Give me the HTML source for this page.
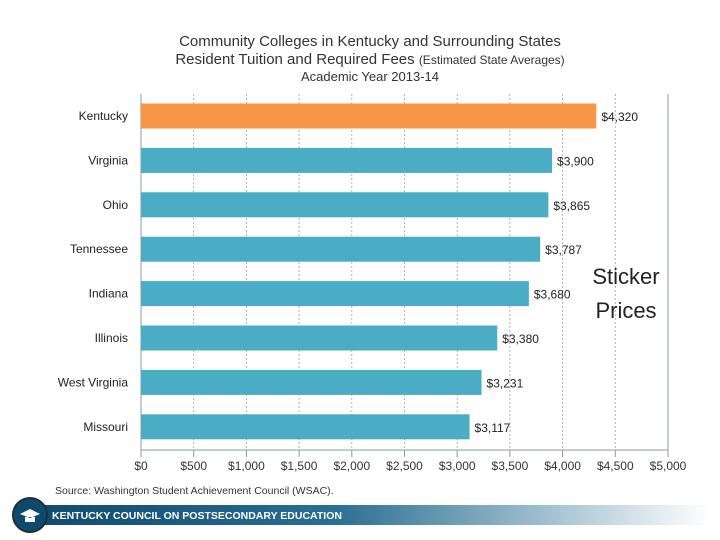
<!DOCTYPE html>
<html><head><meta charset="utf-8"><style>
body{margin:0;width:720px;height:540px;background:#fff;overflow:hidden;font-family:"Liberation Sans",sans-serif;}
svg{display:block}
</style></head><body>
<svg width="720" height="540">
<g font-family="Liberation Sans, sans-serif" fill="#333" text-anchor="middle">
<text x="370" y="46" font-size="15">Community Colleges in Kentucky and Surrounding States</text>
<text x="370" y="64" font-size="15">Resident Tuition and Required Fees <tspan font-size="12">(Estimated State Averages)</tspan></text>
<text x="370" y="81" font-size="13">Academic Year 2013-14</text>
</g>
<g id="plot"></g>
<g font-family="Liberation Sans, sans-serif" fill="#222" font-size="22" text-anchor="middle">
<text x="626" y="284">Sticker</text>
<text x="626" y="318">Prices</text>
</g>
<text x="55" y="494" font-size="10.5" fill="#333" font-family="Liberation Sans, sans-serif">Source: Washington Student Achievement Council (WSAC).</text>
<defs><linearGradient id="bn" x1="0" x2="1"><stop offset="0" stop-color="#0e4a6e"/><stop offset="0.45" stop-color="#2a6f93"/><stop offset="1" stop-color="#ffffff"/></linearGradient></defs>
<rect x="30" y="505" width="680" height="20" fill="url(#bn)"/>
<circle cx="30" cy="515" r="17" fill="#0e4a6e" stroke="#1c2f3e" stroke-width="2"/>
<path d="M20 514 L30 509 L40 514 L30 518 Z M25 517 L25 522 L35 522 L35 517" fill="#fff"/>
<text x="52" y="519" font-size="10.5" font-weight="bold" fill="#fff" font-family="Liberation Sans, sans-serif">KENTUCKY COUNCIL ON POSTSECONDARY EDUCATION</text>
</svg>
<script>
const categories=["Kentucky","Virginia","Ohio","Tennessee","Indiana","Illinois","West Virginia","Missouri"];
const values=[4320,3900,3865,3787,3680,3380,3231,3117];
const valueLabels=["$4,320","$3,900","$3,865","$3,787","$3,680","$3,380","$3,231","$3,117"];
const ticks=[0,500,1000,1500,2000,2500,3000,3500,4000,4500,5000];
const tickLabels=["$0","$500","$1,000","$1,500","$2,000","$2,500","$3,000","$3,500","$4,000","$4,500","$5,000"];
const NS="http://www.w3.org/2000/svg";
const g=document.getElementById('plot');
const x0=141,x1=668,yTop=94,yBot=450;
const xs=v=>x0+(v/5000)*(x1-x0);
const band=44.4,bh=25;
const yc=i=>116+i*band;
function mk(t,a){const e=document.createElementNS(NS,t);for(const k in a)e.setAttribute(k,a[k]);g.appendChild(e);return e;}
ticks.forEach((t,i)=>{
  const x=xs(t);
  if(i>0&&i<ticks.length-1){const l=mk('line',{x1:x,x2:x,y1:yTop,y2:yBot,stroke:'#9aa3ad','stroke-dasharray':'2,2','stroke-width':0.8});
  
  }
  const tk=mk('line',{x1:x,x2:x,y1:yBot,y2:yBot+7,stroke:'#8a98a8'});
  
  
  const tx=mk('text',{x:x,y:yBot+20,'font-size':12,'text-anchor':'middle',fill:'#333','font-family':'Liberation Sans, sans-serif'});
  tx.textContent=tickLabels[i];
  
  
});
const ax=mk('line',{x1:x0,x2:x1,y1:yBot,y2:yBot,stroke:'#8a98a8'});


const ya=mk('line',{x1:x0,x2:x0,y1:yTop,y2:yBot,stroke:'#8a98a8'});


const rb=mk('line',{x1:x1,x2:x1,y1:yTop,y2:yBot,stroke:'#8a98a8'});


categories.forEach((c,i)=>{
  const y=yc(i);
  const r=mk('rect',{x:x0,y:y-bh/2,width:xs(values[i])-x0,height:bh,fill:i===0?'#f79646':'#4bacc6'});
  
  
  const l=mk('text',{x:128,y:y+4,'font-size':12,'text-anchor':'end',fill:'#222','font-family':'Liberation Sans, sans-serif'});
  l.textContent=c;
  
  
  const v=mk('text',{x:xs(values[i])+5,y:y+5,'font-size':12,fill:'#222','font-family':'Liberation Sans, sans-serif'});
  v.textContent=valueLabels[i];
  
  
});
</script>
</body></html>
